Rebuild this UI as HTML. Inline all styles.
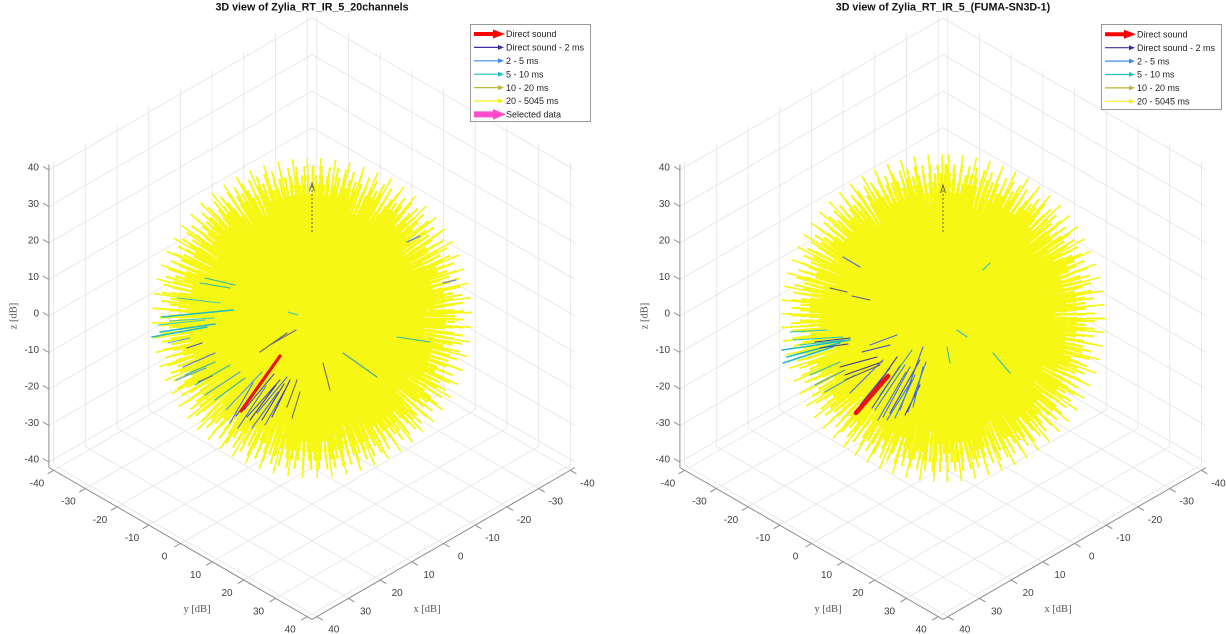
<!DOCTYPE html>
<html>
<head>
<meta charset="utf-8">
<style>
html,body{margin:0;padding:0;background:#fff;}
body{width:1226px;height:634px;position:relative;overflow:hidden;}
svg{position:absolute;left:0;top:0;}
.s{position:absolute;border-radius:50%;}
</style>
</head>
<body>
<svg width="1226" height="634" viewBox="0 0 1226 634" style="z-index:0">
<g id="leftbg">
  <g fill="none" stroke="#e4e4e4" stroke-width="0.8">
    <path d="M307.2 318.4L570.4 470.3M275.5 336.7L538.7 488.6M243.8 355L507 506.9M212.1 373.3L475.3 525.2M180.4 391.6L443.6 543.5M148.7 409.9L411.9 561.8M117 428.2L380.2 580.1M85.3 446.5L348.5 598.4M53.6 464.8L316.8 616.7"/>
    <path d="M316.8 318.4L53.6 470.3M348.5 336.7L85.3 488.6M380.2 355L117 506.9M411.9 373.3L148.7 525.2M443.6 391.6L180.4 543.5M475.3 409.9L212.1 561.8M507 428.2L243.8 580.1M538.7 446.5L275.5 598.4M570.4 464.8L307.2 616.7"/>
    <path d="M307.2 318.3V15.4M275.5 336.6V33.7M243.8 354.9V52M212.1 373.2V70.3M180.4 391.5V88.6M148.7 409.8V106.9M117 428.1V125.2M85.3 446.4V143.5M53.6 464.7V161.8"/>
    <path d="M316.8 318.3V15.4M348.5 336.6V33.7M380.2 354.9V52M411.9 373.2V70.3M443.6 391.5V88.6M475.3 409.8V106.9M507 428.1V125.2M538.7 446.4V143.5M570.4 464.7V161.8"/>
    <path d="M48.9 462L312 310.1M48.9 425.5L312 273.6M48.9 389L312 237.1M48.9 352.5L312 200.6M48.9 316L312 164.1M48.9 279.5L312 127.6M48.9 243L312 91.1M48.9 206.5L312 54.6M48.9 170L312 18.1"/>
    <path d="M575.1 462L312 310.1M575.1 425.5L312 273.6M575.1 389L312 237.1M575.1 352.5L312 200.6M575.1 316L312 164.1M575.1 279.5L312 127.6M575.1 243L312 91.1M575.1 206.5L312 54.6M575.1 170L312 18.1"/>
  </g>
  <g fill="none" stroke="#8c8c8c" stroke-width="1">
    <path d="M48.9 164.5V467.5L312 619.4L575.1 467.5"/>
    <path d="M48.9 462l-6 -3.5M48.9 425.5l-6 -3.5M48.9 389l-6 -3.5M48.9 352.5l-6 -3.5M48.9 316l-6 -3.5M48.9 279.5l-6 -3.5M48.9 243l-6 -3.5M48.9 206.5l-6 -3.5M48.9 170l-6 -3.5"/>
    <path d="M53.6 470.3l-6 3.5M85.3 488.6l-6 3.5M117 506.9l-6 3.5M148.7 525.2l-6 3.5M180.4 543.5l-6 3.5M212.1 561.8l-6 3.5M243.8 580.1l-6 3.5M275.5 598.4l-6 3.5M307.2 616.7l-6 3.5"/>
    <path d="M570.4 470.3l6 3.5M538.7 488.6l6 3.5M507 506.9l6 3.5M475.3 525.2l6 3.5M443.6 543.5l6 3.5M411.9 561.8l6 3.5M380.2 580.1l6 3.5M348.5 598.4l6 3.5M316.8 616.7l6 3.5"/>
  </g>
  <g font-family="Liberation Sans, Arial, sans-serif" font-size="10" fill="#404040">
    <g text-anchor="end">
      <text x="39" y="170.5">40</text><text x="39" y="207">30</text><text x="39" y="243.5">20</text><text x="39" y="280">10</text><text x="39" y="316.5">0</text><text x="39" y="353">-10</text><text x="39" y="389.5">-20</text><text x="39" y="426">-30</text><text x="39" y="462.5">-40</text>
    </g>
    <g text-anchor="middle">
      <text x="37" y="486.3">-40</text><text x="68.5" y="504.6">-30</text><text x="100" y="522.9">-20</text><text x="132" y="541.2">-10</text><text x="164.5" y="559.5">0</text><text x="195.5" y="577.8">10</text><text x="227" y="596.1">20</text><text x="258.5" y="614.4">30</text><text x="290.2" y="632.7">40</text>
      <text x="587.4" y="486.3">-40</text><text x="555.7" y="504.6">-30</text><text x="524" y="522.9">-20</text><text x="492.3" y="541.2">-10</text><text x="460.6" y="559.5">0</text><text x="428.9" y="577.8">10</text><text x="397.2" y="596.1">20</text><text x="365.5" y="614.4">30</text><text x="333.8" y="632.7">40</text>
    </g>
  </g>
  <g font-family="Liberation Serif, serif" font-size="10.5" fill="#555" text-anchor="middle">
    <text x="197" y="612">y [dB]</text>
    <text x="427" y="612">x [dB]</text>
    <text transform="translate(16.5,316) rotate(-90)" x="0" y="0">z [dB]</text>
  </g>
  <text x="312" y="10.5" text-anchor="middle" font-family="Liberation Sans, Arial, sans-serif" font-size="10.7" font-weight="bold" fill="#111">3D view of Zylia_RT_IR_5_20channels</text>
</g>

<g transform="translate(631 0)">
  <g fill="none" stroke="#e4e4e4" stroke-width="0.8">
    <path d="M307.2 318.4L570.4 470.3M275.5 336.7L538.7 488.6M243.8 355L507 506.9M212.1 373.3L475.3 525.2M180.4 391.6L443.6 543.5M148.7 409.9L411.9 561.8M117 428.2L380.2 580.1M85.3 446.5L348.5 598.4M53.6 464.8L316.8 616.7"/>
    <path d="M316.8 318.4L53.6 470.3M348.5 336.7L85.3 488.6M380.2 355L117 506.9M411.9 373.3L148.7 525.2M443.6 391.6L180.4 543.5M475.3 409.9L212.1 561.8M507 428.2L243.8 580.1M538.7 446.5L275.5 598.4M570.4 464.8L307.2 616.7"/>
    <path d="M307.2 318.3V15.4M275.5 336.6V33.7M243.8 354.9V52M212.1 373.2V70.3M180.4 391.5V88.6M148.7 409.8V106.9M117 428.1V125.2M85.3 446.4V143.5M53.6 464.7V161.8"/>
    <path d="M316.8 318.3V15.4M348.5 336.6V33.7M380.2 354.9V52M411.9 373.2V70.3M443.6 391.5V88.6M475.3 409.8V106.9M507 428.1V125.2M538.7 446.4V143.5M570.4 464.7V161.8"/>
    <path d="M48.9 462L312 310.1M48.9 425.5L312 273.6M48.9 389L312 237.1M48.9 352.5L312 200.6M48.9 316L312 164.1M48.9 279.5L312 127.6M48.9 243L312 91.1M48.9 206.5L312 54.6M48.9 170L312 18.1"/>
    <path d="M575.1 462L312 310.1M575.1 425.5L312 273.6M575.1 389L312 237.1M575.1 352.5L312 200.6M575.1 316L312 164.1M575.1 279.5L312 127.6M575.1 243L312 91.1M575.1 206.5L312 54.6M575.1 170L312 18.1"/>
  </g>
  <g fill="none" stroke="#8c8c8c" stroke-width="1">
    <path d="M48.9 164.5V467.5L312 619.4L575.1 467.5"/>
    <path d="M48.9 462l-6 -3.5M48.9 425.5l-6 -3.5M48.9 389l-6 -3.5M48.9 352.5l-6 -3.5M48.9 316l-6 -3.5M48.9 279.5l-6 -3.5M48.9 243l-6 -3.5M48.9 206.5l-6 -3.5M48.9 170l-6 -3.5"/>
    <path d="M53.6 470.3l-6 3.5M85.3 488.6l-6 3.5M117 506.9l-6 3.5M148.7 525.2l-6 3.5M180.4 543.5l-6 3.5M212.1 561.8l-6 3.5M243.8 580.1l-6 3.5M275.5 598.4l-6 3.5M307.2 616.7l-6 3.5"/>
    <path d="M570.4 470.3l6 3.5M538.7 488.6l6 3.5M507 506.9l6 3.5M475.3 525.2l6 3.5M443.6 543.5l6 3.5M411.9 561.8l6 3.5M380.2 580.1l6 3.5M348.5 598.4l6 3.5M316.8 616.7l6 3.5"/>
  </g>
  <g font-family="Liberation Sans, Arial, sans-serif" font-size="10" fill="#404040">
    <g text-anchor="end">
      <text x="39" y="170.5">40</text><text x="39" y="207">30</text><text x="39" y="243.5">20</text><text x="39" y="280">10</text><text x="39" y="316.5">0</text><text x="39" y="353">-10</text><text x="39" y="389.5">-20</text><text x="39" y="426">-30</text><text x="39" y="462.5">-40</text>
    </g>
    <g text-anchor="middle">
      <text x="37" y="486.3">-40</text><text x="68.5" y="504.6">-30</text><text x="100" y="522.9">-20</text><text x="132" y="541.2">-10</text><text x="164.5" y="559.5">0</text><text x="195.5" y="577.8">10</text><text x="227" y="596.1">20</text><text x="258.5" y="614.4">30</text><text x="290.2" y="632.7">40</text>
      <text x="587.4" y="486.3">-40</text><text x="555.7" y="504.6">-30</text><text x="524" y="522.9">-20</text><text x="492.3" y="541.2">-10</text><text x="460.6" y="559.5">0</text><text x="428.9" y="577.8">10</text><text x="397.2" y="596.1">20</text><text x="365.5" y="614.4">30</text><text x="333.8" y="632.7">40</text>
    </g>
  </g>
  <g font-family="Liberation Serif, serif" font-size="10.5" fill="#555" text-anchor="middle">
    <text x="197" y="612">y [dB]</text>
    <text x="427" y="612">x [dB]</text>
    <text transform="translate(16.5,316) rotate(-90)" x="0" y="0">z [dB]</text>
  </g>
  <text x="312" y="10.5" text-anchor="middle" font-family="Liberation Sans, Arial, sans-serif" font-size="10.7" font-weight="bold" fill="#111">3D view of Zylia_RT_IR_5_(FUMA-SN3D-1)</text>
</g>
</svg>

<!-- Left sphere -->
<div class="s" style="z-index:1;left:152px;top:158px;width:320px;height:320px;background:repeating-conic-gradient(from 2.9deg,#f7f716 0deg 0.6deg,transparent 0.6deg 5.3deg);"></div>
<div class="s" style="z-index:1;left:160px;top:166px;width:304px;height:304px;background:repeating-conic-gradient(from 0.2deg,#f7f716 0deg 0.8deg,transparent 0.8deg 3.1deg);"></div>
<div class="s" style="z-index:1;left:169px;top:175px;width:286px;height:286px;background:repeating-conic-gradient(from 1.3deg,#f7f716 0deg 1deg,transparent 1deg 2.3deg);"></div>
<div class="s" style="z-index:1;left:178px;top:184px;width:268px;height:268px;background:repeating-conic-gradient(from 0.7deg,#f7f716 0deg 1.2deg,transparent 1.2deg 1.9deg);"></div>
<div class="s" style="z-index:1;left:188px;top:194px;width:248px;height:248px;background:repeating-conic-gradient(#f7f716 0deg 1.5deg,transparent 1.5deg 1.8deg);"></div>
<div class="s" style="z-index:1;left:200px;top:206px;width:224px;height:224px;background:#f7f716;"></div>

<!-- Right sphere -->
<div class="s" style="z-index:1;left:781px;top:154px;width:324px;height:328px;background:repeating-conic-gradient(from 1.7deg,#f7f716 0deg 0.6deg,transparent 0.6deg 4.9deg);"></div>
<div class="s" style="z-index:1;left:791px;top:164px;width:304px;height:308px;background:repeating-conic-gradient(from 0.9deg,#f7f716 0deg 0.8deg,transparent 0.8deg 2.9deg);"></div>
<div class="s" style="z-index:1;left:800px;top:173px;width:286px;height:290px;background:repeating-conic-gradient(from 2.1deg,#f7f716 0deg 1deg,transparent 1deg 2.2deg);"></div>
<div class="s" style="z-index:1;left:809px;top:182px;width:268px;height:272px;background:repeating-conic-gradient(from 0.3deg,#f7f716 0deg 1.2deg,transparent 1.2deg 1.9deg);"></div>
<div class="s" style="z-index:1;left:819px;top:192px;width:248px;height:252px;background:repeating-conic-gradient(from 1deg,#f7f716 0deg 1.5deg,transparent 1.5deg 1.8deg);"></div>
<div class="s" style="z-index:1;left:831px;top:204px;width:224px;height:228px;background:#f7f716;"></div>

<svg width="1226" height="634" viewBox="0 0 1226 634" style="z-index:2">
  <!-- Left colored lines -->
  <g fill="none" stroke-linecap="round" stroke-width="1.1">
    <path stroke="#1fbcc4" stroke-width="1.6" d="M152 337L207 327M160 332L215 324M162 317L233 310"/>
    <path stroke="#40c8c0" d="M158 325L205 320M178 298L220 303M288 312L298 315M170 321L214 318"/>
    <path stroke="#2ab8b0" d="M200 283L230 288M205 278L235 285M397 337L430 342M195 385L230 365M215 400L245 378M185 375L215 362"/>
    <path stroke="#4aa0e0" d="M168 343L190 338M226 410L262 372M205 395L240 372M176 380L206 368"/>
    <path stroke="#4a6fe3" d="M230 423L253 383M257 413L287 377M265 425L285 390M183 367L215 353M407 242L420 236M443 283L456 280M238 428L266 386M252 428L278 392"/>
    <path stroke="#3d4fd0" d="M247 417L280 380M236 416L270 370M187 348L202 343M244 410L274 374"/>
    <path stroke="#3a3aa8" d="M272 417L290 380M250 420L276 385M262 420L284 384"/>
    <path stroke="#6b6b7a" d="M287 407L297 380M260 352L287 333M270 345L296 330M323 363L330 390M292 418L300 392M198 382L212 376"/>
    <path stroke="#3fa8a0" d="M343 353L377 377"/>
    <path stroke="#f01010" stroke-width="3.2" d="M241 411L280 356"/>
  </g>
  <!-- Right colored lines -->
  <g fill="none" stroke-linecap="round" stroke-width="1.1">
    <path stroke="#1fbcc4" stroke-width="1.6" d="M783 363L833 347M782 350L850 340M787 357L840 343"/>
    <path stroke="#2ac0c0" d="M790 332L827 330M793 340L843 337M810 375L840 362M993 353L1010 373M957 330L967 337M947 347L950 363M983 270L990 263M800 345L845 340"/>
    <path stroke="#40a0c0" d="M815 385L845 370M880 395L912 350M825 392L855 375"/>
    <path stroke="#3b35a0" d="M815 342L850 338M820 348L848 344M867 400L897 357M840 367L877 357M905 415L920 385M845 375L882 362"/>
    <path stroke="#4a6fe3" d="M883 417L910 367M900 410L923 347M850 393L883 360M870 345L897 335M843 257L860 267M878 420L906 372M908 412L926 362"/>
    <path stroke="#3d4fd0" d="M890 413L920 360M860 405L890 368M862 352L890 345M872 408L900 366"/>
    <path stroke="#3a7ae8" d="M913 407L923 367M875 410L905 365M895 418L915 375M887 420L912 380"/>
    <path stroke="#5a5a90" d="M845 380L880 365M830 288L847 292M852 296L870 300"/>
    <path stroke="#f01010" stroke-width="4.5" d="M856 413L888 376"/>
  </g>
  <!-- dashed z arrows -->
  <g stroke="#555" stroke-width="0.9" fill="none">
    <path stroke-dasharray="2 2" d="M312 232V186M943 232V188"/>
    <path d="M309.5 191L312 183L314.5 191M940.5 193L943 185L945.5 193"/>
  </g>

  <!-- Left legend -->
  <rect x="470.5" y="24.5" width="120" height="97" fill="#fff" stroke="#999" stroke-width="1"/>
  <g>
    <path d="M474 34H495" stroke="#ff0000" stroke-width="4"/><path d="M493 29.5L505 34L493 38.5Z" fill="#ff0000"/>
    <path d="M474 47.4H499" stroke="#3b2fa0" stroke-width="1.2"/><path d="M498 44.9L504 47.4L498 49.9Z" fill="#3b2fa0"/>
    <path d="M474 60.8H499" stroke="#3c8cf0" stroke-width="1.2"/><path d="M498 58.3L504 60.8L498 63.3Z" fill="#3c8cf0"/>
    <path d="M474 74.2H499" stroke="#1fbfc4" stroke-width="1.2"/><path d="M498 71.7L504 74.2L498 76.7Z" fill="#1fbfc4"/>
    <path d="M474 87.6H499" stroke="#bdb63a" stroke-width="1.2"/><path d="M498 85.1L504 87.6L498 90.1Z" fill="#bdb63a"/>
    <path d="M474 101H499" stroke="#f2f21a" stroke-width="1.2"/><path d="M498 98.5L504 101L498 103.5Z" fill="#f2f21a"/>
    <path d="M474 114.4H495" stroke="#ff4ccc" stroke-width="6"/><path d="M493 109L506 114.4L493 119.8Z" fill="#ff4ccc"/>
  </g>
  <g font-family="Liberation Sans, Arial, sans-serif" font-size="9" fill="#222">
    <text x="506" y="37.2">Direct sound</text>
    <text x="506" y="50.6">Direct sound - 2 ms</text>
    <text x="506" y="64">2 - 5 ms</text>
    <text x="506" y="77.4">5 - 10 ms</text>
    <text x="506" y="90.8">10 - 20 ms</text>
    <text x="506" y="104.2">20 - 5045 ms</text>
    <text x="506" y="117.6">Selected data</text>
  </g>

  <!-- Right legend -->
  <rect x="1101.5" y="24.5" width="120" height="85" fill="#fff" stroke="#999" stroke-width="1"/>
  <g>
    <path d="M1105 34.3H1126" stroke="#ff0000" stroke-width="4"/><path d="M1124 29.8L1136 34.3L1124 38.8Z" fill="#ff0000"/>
    <path d="M1105 47.7H1130" stroke="#3b2fa0" stroke-width="1.2"/><path d="M1129 45.2L1135 47.7L1129 50.2Z" fill="#3b2fa0"/>
    <path d="M1105 61.1H1130" stroke="#3c8cf0" stroke-width="1.2"/><path d="M1129 58.6L1135 61.1L1129 63.6Z" fill="#3c8cf0"/>
    <path d="M1105 74.5H1130" stroke="#1fbfc4" stroke-width="1.2"/><path d="M1129 72L1135 74.5L1129 77Z" fill="#1fbfc4"/>
    <path d="M1105 87.9H1130" stroke="#bdb63a" stroke-width="1.2"/><path d="M1129 85.4L1135 87.9L1129 90.4Z" fill="#bdb63a"/>
    <path d="M1105 101.3H1130" stroke="#f2f21a" stroke-width="1.2"/><path d="M1129 98.8L1135 101.3L1129 103.8Z" fill="#f2f21a"/>
  </g>
  <g font-family="Liberation Sans, Arial, sans-serif" font-size="9" fill="#222">
    <text x="1137" y="37.5">Direct sound</text>
    <text x="1137" y="50.9">Direct sound - 2 ms</text>
    <text x="1137" y="64.3">2 - 5 ms</text>
    <text x="1137" y="77.7">5 - 10 ms</text>
    <text x="1137" y="91.1">10 - 20 ms</text>
    <text x="1137" y="104.5">20 - 5045 ms</text>
  </g>
</svg>
</body>
</html>
